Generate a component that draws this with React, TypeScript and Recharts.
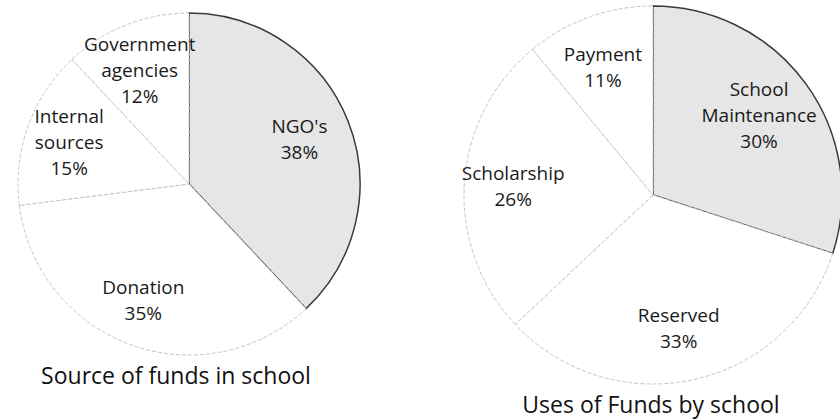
import React from 'react';
import { Cell, Pie, PieChart } from 'recharts';

const sourceNames = ["NGO's", 'Donation', 'Internal\nsources', 'Government\nagencies'];
const sourceValues = [38, 35, 15, 12];

const useNames = ['School\nMaintenance', 'Reserved', 'Scholarship', 'Payment'];
const useValues = [30, 33, 26, 11];

const titles = ['Source of funds in school', 'Uses of Funds by school'];

const sourceData = sourceNames.map((name, i) => ({ name, value: sourceValues[i] }));
const useData = useNames.map((name, i) => ({ name, value: useValues[i] }));

const RAD = Math.PI / 180;
const FONT = '"Open Sans", "DejaVu Sans", sans-serif';

const renderLabel = (props: any) => {
  const { cx, cy, midAngle, outerRadius, name, value } = props;
  const r = outerRadius * 0.72;
  const x = cx + r * Math.cos(-midAngle * RAD) - 4;
  const y = cy + r * Math.sin(-midAngle * RAD);
  const lines = [...String(name).split('\n'), `${value}%`];
  const lh = 26;
  const top = y - ((lines.length - 1) * lh) / 2;
  return (
    <text x={x} y={top} textAnchor="middle" dominantBaseline="central"
      fontFamily={FONT} fontSize={19} fill="#1a1a1a">
      {lines.map((l, i) => (
        <tspan key={i} x={x} y={top + i * lh}>{l}</tspan>
      ))}
    </text>
  );
};

const sliceStyle = (i: number) => (i === 0
  ? { fill: '#e6e6e6', stroke: '#3a3a3a', strokeWidth: 1.5 }
  : { fill: '#ffffff', stroke: '#c4c4c4', strokeWidth: 1, strokeDasharray: '4 2' });

const titleStyle: React.CSSProperties = {
  position: 'absolute',
  transform: 'translate(-50%, -50%)',
  whiteSpace: 'nowrap',
  fontFamily: FONT,
  fontSize: 23,
  lineHeight: 1,
  color: '#111',
};

export default function App() {
  return (
    <div style={{ position: 'absolute', left: 0, top: 0, width: 840, height: 420, background: '#fff', overflow: 'hidden' }}>
      <PieChart width={840} height={420}>
        <Pie data={sourceData} dataKey="value" nameKey="name" cx={184} cy={179}
          outerRadius={171} startAngle={90} endAngle={-270}
          label={renderLabel} labelLine={false} isAnimationActive={false}>
          {sourceData.map((d, i) => <Cell key={d.name} {...sliceStyle(i)} />)}
        </Pie>
        <Pie data={useData} dataKey="value" nameKey="name" cx={648} cy={190}
          outerRadius={189} startAngle={90} endAngle={-270}
          label={renderLabel} labelLine={false} isAnimationActive={false}>
          {useData.map((d, i) => <Cell key={d.name} {...sliceStyle(i)} />)}
        </Pie>
      </PieChart>
      <div style={{ ...titleStyle, left: 176, top: 375 }}>{titles[0]}</div>
      <div style={{ ...titleStyle, left: 651, top: 404 }}>{titles[1]}</div>
    </div>
  );
}
